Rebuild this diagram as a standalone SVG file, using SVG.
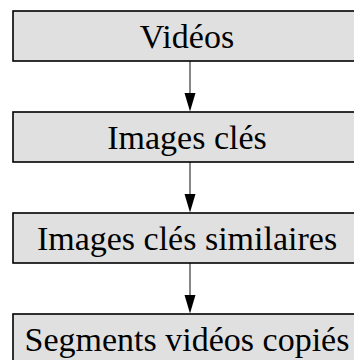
<svg xmlns="http://www.w3.org/2000/svg" width="354" height="360" viewBox="0 0 354 360">
<style>
.box{fill:#e0e0e0;stroke:#000;stroke-width:1.6}
.lbl{font-family:'Liberation Serif','Times New Roman',serif;font-size:34px;fill:#000;text-anchor:middle}
.conn{stroke:#555;stroke-width:1.4;fill:none}
.head{fill:#000}
</style>
<rect width="354" height="360" fill="#fff"/>
<g id="connectors">
<line class="conn" x1="190" y1="61" x2="190" y2="94"/>
<polygon class="head" points="184.5,93 195.5,93 190,111.5"/>
<line class="conn" x1="190" y1="162" x2="190" y2="195"/>
<polygon class="head" points="184.5,194 195.5,194 190,212.5"/>
<line class="conn" x1="190" y1="263" x2="190" y2="296"/>
<polygon class="head" points="184.5,295 195.5,295 190,313.5"/>
</g>
<g id="n1"><rect class="box" x="13" y="11" width="350" height="50"/><text class="lbl" x="187" y="48">Vidéos</text></g>
<g id="n2"><rect class="box" x="13" y="112" width="350" height="50"/><text class="lbl" x="187" y="149">Images clés</text></g>
<g id="n3"><rect class="box" x="13" y="213" width="350" height="50"/><text class="lbl" x="187" y="250">Images clés similaires</text></g>
<g id="n4"><rect class="box" x="13" y="314" width="350" height="50"/><text class="lbl" x="187" y="351">Segments vidéos copiés</text></g>
</svg>
